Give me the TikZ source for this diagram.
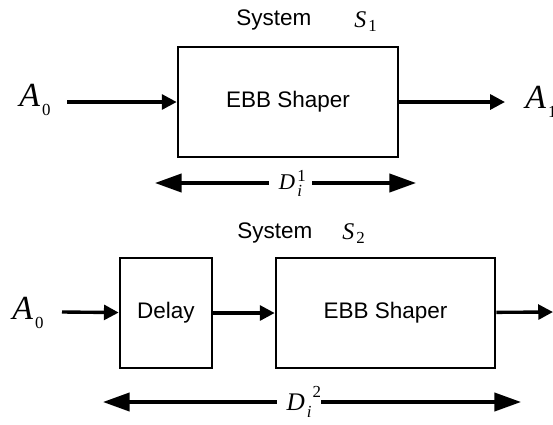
\documentclass[tikz,border=0pt]{standalone}
\usepackage{fontspec}
\setmainfont{Liberation Sans}
\newfontfamily\tms{Liberation Serif}
\usetikzlibrary{arrows.meta,positioning}
\newcommand{\subfont}{\fontsize{12}{13}\selectfont}
% symbol with a lowered index, e.g. A_0
\newcommand{\symb}[3][7pt]{{\itshape #2}\kern1.5pt\raisebox{-#1}{\subfont #3}}
% delay symbol D_i^k: #1 index, #2 raise of index, #3 shift of index
\newcommand{\dlbl}[3]{{\itshape D}\kern1.5pt\rlap{\kern#3\raisebox{#2}{\subfont #1}}\raisebox{-5pt}{\subfont\itshape i}}
\tikzset{%
	block/.style   = {draw, line width=1.8pt, rectangle, font=\fontsize{16}{18}\selectfont},
	lbl/.style     = {inner sep=0pt, font=\tms\fontsize{24}{26}\selectfont},
	sysname/.style = {inner sep=0pt, font=\fontsize{16}{18}\selectfont},
	arrow/.style   = {line width=2.4pt, -{Triangle[length=10.5pt,width=10.5pt]}},
	span/.style    = {line width=2.4pt, {Triangle[length=19pt,width=13pt]}-{Triangle[length=19pt,width=13pt]}},
	waypoint/.style = {coordinate},
}
\begin{document}
\begin{tikzpicture}[x=0.025cm,y=-0.025cm]
	\useasboundingbox (0,0) rectangle (553,424);
	% System S_1
	\node[block, minimum width=5.5cm, minimum height=2.75cm] (shaper1) at (288,102) {EBB Shaper};
	\node[sysname, anchor=base west] (sys1) at (236,25) {System};
	\node[lbl, anchor=base west, font=\tms\fontsize{17}{18}\selectfont] (s1) at (354,27) {\symb[3pt]{S}{1}};
	\node[lbl, anchor=base west] (a0top) at (19,106) {\symb{A}{0}};
	\node[lbl, anchor=base west] (a1) at (525,108) {\symb{A}{1}};
	\node[waypoint] (in1) at (67,102) {};
	\node[waypoint] (out1) at (505,102) {};
	\node[waypoint] (d1l) at (155,183) {};
	\node[waypoint] (d1r) at (416,183) {};
	
	\draw[arrow] (in1) -- (shaper1);
	\draw[arrow] (shaper1) -- (out1);
	\draw[span] (d1l) -- node[lbl, pos=0.519, fill=white, inner xsep=7pt, inner ysep=2pt, font=\tms\fontsize{16}{18}\selectfont] {\dlbl{1}{5.7pt}{0pt}} (d1r);
	
	% System S_2
	\node[block, minimum width=2.3cm, minimum height=2.75cm] (delay) at (166,313) {Delay};
	\node[block, minimum width=5.475cm, minimum height=2.75cm] (shaper2) at (385.5,313) {EBB Shaper};
	\node[sysname, anchor=base west] (sys2) at (237,238) {System};
	\node[lbl, anchor=base west, font=\tms\fontsize{17}{18}\selectfont] (s2) at (342,239) {\symb[3.5pt]{S}{2}};
	\node[lbl, anchor=base west] (a0bot) at (12,319) {\symb{A}{0}};
	\node[waypoint] (in2) at (62,312) {};
	\node[waypoint] (out2) at (553,312) {};
	\node[waypoint] (d2l) at (103,402) {};
	\node[waypoint] (d2r) at (521,402) {};
	
	\draw[arrow] (in2) -- (delay);
	\draw[arrow] (delay) -- (shaper2);
	\draw[arrow] (shaper2) -- (out2);
	\draw[span] (d2l) -- node[lbl, pos=0.469, fill=white, inner xsep=7pt, inner ysep=2pt, font=\tms\fontsize{18}{20}\selectfont] {\dlbl{2}{9pt}{4pt}} (d2r);
\end{tikzpicture}
\end{document}
